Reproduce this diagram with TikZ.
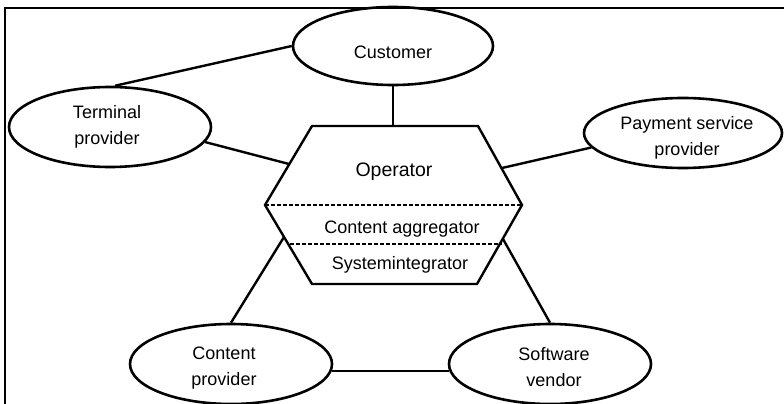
\documentclass[tikz,border=0pt]{standalone}
\usepackage{fontspec}
\setmainfont{Liberation Sans}
\usetikzlibrary{shapes.geometric}
\begin{document}
\begin{tikzpicture}[x=1pt,y=-1pt,
  ell/.style={draw,ellipse,line width=2.6pt,inner sep=0pt,minimum width=202pt,minimum height=80pt},
  lbl/.style={align=center,inner sep=0pt,font=\fontsize{18}{26}\selectfont},
  conn/.style={line width=2.4pt},
  hexline/.style={line width=2.4pt,line join=miter},
  divline/.style={line width=1.1pt,dash pattern=on 4pt off 2pt}]
\useasboundingbox (0,0) rectangle (784,404);
% frame
\draw[line width=2.2pt] (5,404) -- (5,8) -- (784,8);
% ellipses
\node[ell,minimum width=200pt,minimum height=78pt] (cust) at (393,46) {};
\node[ell,minimum width=202pt,minimum height=80pt] (term) at (110,127) {};
\node[ell,minimum width=198pt,minimum height=70pt] (pay) at (683,133) {};
\node[ell] (cont) at (231,364) {};
\node[ell] (soft) at (550,364) {};
% labels
\node[lbl] (custT) at (393,52) {Customer};
\node[lbl] (termT) at (107,127) {Terminal\\provider};
\node[lbl] (payT) at (687,138) {Payment service\\provider};
\node[lbl] (contT) at (224,368) {Content\\provider};
\node[lbl] (softT) at (554,367) {Software\\vendor};
% hexagon
\coordinate (hTL) at (312,126);
\coordinate (hTR) at (478,126);
\coordinate (hR) at (522,205);
\coordinate (hBR) at (477,284);
\coordinate (hBL) at (312,284);
\coordinate (hL) at (265,205);
\draw[hexline] (hTL) -- (hTR) -- (hR) -- (hBR) -- (hBL) -- (hL) -- cycle;
\coordinate (dA) at (290,244);
\coordinate (dB) at (502,244);
\draw[divline] (hL) -- (hR);
\draw[divline] (dA) -- (dB);
\node[lbl,font=\fontsize{19.5}{24}\selectfont] (op) at (394,172) {Operator};
\node[lbl] (agg) at (402,229) {Content aggregator};
\node[lbl] (sysint) at (400,265) {Systemintegrator};
% connector endpoints on hexagon
\coordinate (hT) at (393,126);
\coordinate (hL1) at (289,164);
\coordinate (hR1) at (502,168);
\coordinate (hL2) at (284,237);
\coordinate (hR2) at (503,239);
% connectors
\draw[conn] (cust.south) -- (hT);
\draw[conn] (term.83) -- (cust.west);
\draw[conn] (term.-9) -- (hL1);
\draw[conn] (pay.189) -- (hR1);
\draw[conn] (cont.north) -- (hL2);
\draw[conn] (soft.north) -- (hR2);
\draw[conn] (cont.-4) -- (soft.184);
\end{tikzpicture}
\end{document}
